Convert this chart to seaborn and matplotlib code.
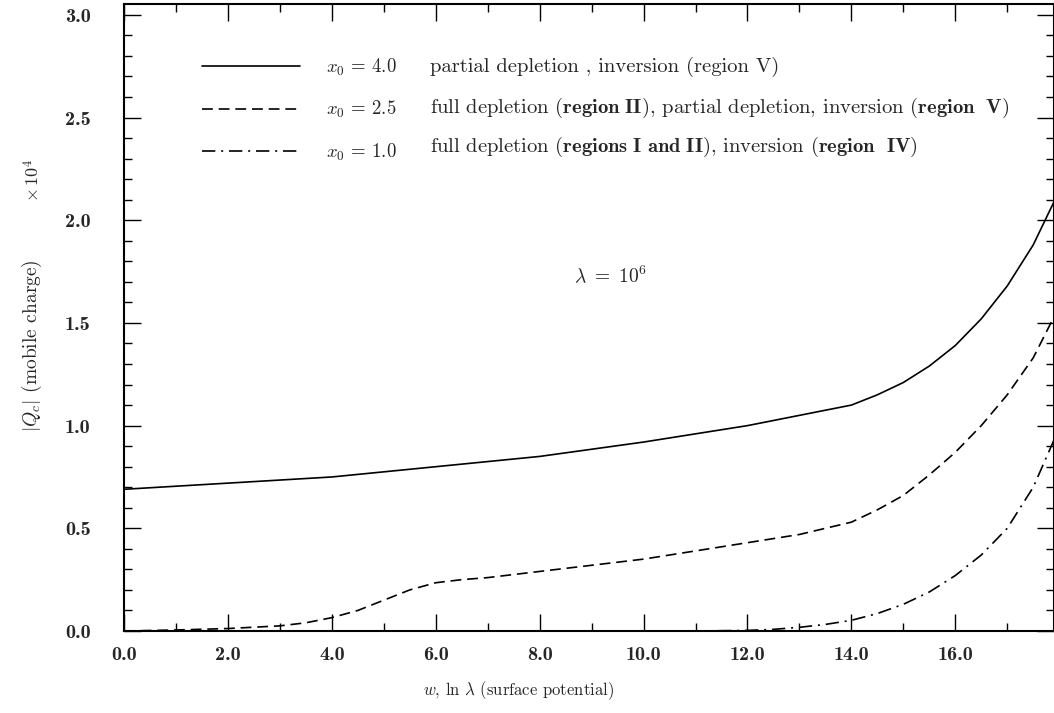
import numpy as np
import pandas as pd
import matplotlib
matplotlib.use("Agg")
import matplotlib.pyplot as plt
import seaborn as sns
from matplotlib.ticker import MultipleLocator

# ---------------- data ----------------
w_x4 = [0, 2, 4, 6, 8, 10, 12, 13, 14, 14.5, 15, 15.5, 16, 16.5, 17, 17.5, 17.9]
q_x4 = [0.69, 0.72, 0.75, 0.80, 0.85, 0.92, 1.00, 1.05, 1.10, 1.15, 1.21, 1.29, 1.39, 1.52, 1.68, 1.88, 2.09]

w_x25 = [0, 1, 2, 3, 3.5, 4, 4.5, 5, 5.5, 6, 6.5, 7, 8, 9, 10, 11, 12, 13, 14,
         14.5, 15, 15.5, 16, 16.5, 17, 17.5, 17.9]
q_x25 = [0.0, 0.005, 0.012, 0.025, 0.04, 0.065, 0.10, 0.15, 0.20, 0.235, 0.25, 0.26,
         0.29, 0.32, 0.35, 0.39, 0.43, 0.47, 0.53, 0.59, 0.66, 0.76, 0.87, 1.00, 1.15, 1.33, 1.53]

w_x1 = [0, 2, 4, 6, 8, 10, 11, 12, 12.5, 13, 13.5, 14, 14.5, 15, 15.5, 16, 16.5, 17, 17.5, 17.9]
q_x1 = [0, 0, 0, 0, 0, 0, 0, 0.003, 0.008, 0.018, 0.032, 0.052, 0.085, 0.13, 0.19, 0.27,
        0.37, 0.50, 0.70, 0.93]

series_labels = [r"$x_0$ = 4.0", r"$x_0$ = 2.5", r"$x_0$ = 1.0"]
descriptions = [
    r"partial depletion , inversion (region V)",
    r"full depletion $\mathbf{(region\ II)}$, partial depletion, inversion $\mathbf{(region\ \ V)}$",
    r"full depletion $\mathbf{(regions\ I\ and\ II)}$, inversion $\mathbf{(region\ \ IV)}$",
]
x_ticks = [0, 2, 4, 6, 8, 10, 12, 14, 16]
x_tick_labels = ["0.0", "2.0", "4.0", "6.0", "8.0", "10.0", "12.0", "14.0", "16.0"]
y_ticks = [0.0, 0.5, 1.0, 1.5, 2.0, 2.5, 3.0]
y_tick_labels = ["0.0", "0.5", "1.0", "1.5", "2.0", "2.5", "3.0"]

# ---------------- styling ----------------
sns.set_style("ticks")
plt.rcParams.update({
    "font.family": ["cmr10", "DejaVu Serif"],
    "mathtext.fontset": "cm",
    "axes.formatter.use_mathtext": True,
    "axes.unicode_minus": False,
    "axes.linewidth": 1.5,
    "axes.edgecolor": "black",
})

W, H = 1054, 713
fig = plt.figure(figsize=(W / 100, H / 100), dpi=100)
ax = fig.add_axes([124 / W, 82 / H, 1 - 124 / W, (631 - 4) / H])

df = pd.concat([
    pd.DataFrame({"w": w_x4, "Q": q_x4, "series": series_labels[0]}),
    pd.DataFrame({"w": w_x25, "Q": q_x25, "series": series_labels[1]}),
    pd.DataFrame({"w": w_x1, "Q": q_x1, "series": series_labels[2]}),
])
dash_map = {series_labels[0]: "", series_labels[1]: (6.5, 3.5), series_labels[2]: (8, 3.5, 1.2, 3.5)}

sns.lineplot(data=df, x="w", y="Q", style="series", style_order=series_labels,
             dashes=dash_map, color="black", lw=1.2, sort=False, estimator=None, ax=ax)

ax.set_xlim(0, 17.9)
ax.set_ylim(0, 3.053)
ax.set_xlabel("")
ax.set_ylabel("")

ax.set_xticks(x_ticks, labels=x_tick_labels, fontfamily="cmb10", fontsize=14.5)
ax.set_yticks(y_ticks, labels=y_tick_labels, fontfamily="cmb10", fontsize=14.5)
ax.xaxis.set_minor_locator(MultipleLocator(1))
ax.yaxis.set_minor_locator(MultipleLocator(0.1))
ax.tick_params(which="both", direction="in", top=True, right=True, color="black", width=1.0)
ax.tick_params(which="major", length=12)
ax.tick_params(which="minor", length=6)
ax.tick_params(axis="x", which="major", pad=11)
ax.tick_params(axis="y", which="major", pad=24)
for s in ax.spines.values():
    s.set_visible(True)
    s.set_color("black")

# legend (line samples + x0 labels)
handles, labels = ax.get_legend_handles_labels()
pairs = [(h, l) for h, l in zip(handles, labels) if l in series_labels]
for h, _ in pairs:
    h.set_color("black")
    h.set_linewidth(1.2)
leg = ax.legend([p[0] for p in pairs], [p[1] for p in pairs],
                loc="upper left", bbox_to_anchor=(202 / W, 1 - 57 / H),
                bbox_transform=fig.transFigure, frameon=False, fontsize=13.5,
                handlelength=5.2, handletextpad=1.4, labelspacing=1.12,
                borderpad=0, borderaxespad=0)

rows_y = [67, 108, 147]
for ry, desc in zip(rows_y, descriptions):
    fig.text(430 / W, 1 - ry / H, desc, ha="left", va="center", fontsize=14.8)

ax.text(9.37, 1.73, r"$\lambda\ =\ 10^6$", ha="center", va="center", fontsize=14)

fig.text(32 / W, 1 - 346 / H, r"$|Q_c|$ (mobile charge)", rotation=90,
         ha="center", va="center", fontsize=14)
fig.text(32 / W, 1 - 180 / H, r"$\times\,10^4$", rotation=90,
         ha="center", va="center", fontsize=13)
fig.text(518 / W, 1 - 691 / H, r"$\mathbf{\mathit{w}}$, ln $\lambda$ (surface potential)",
         ha="center", va="center", fontsize=12)

fig.savefig("out.png", dpi=100)
